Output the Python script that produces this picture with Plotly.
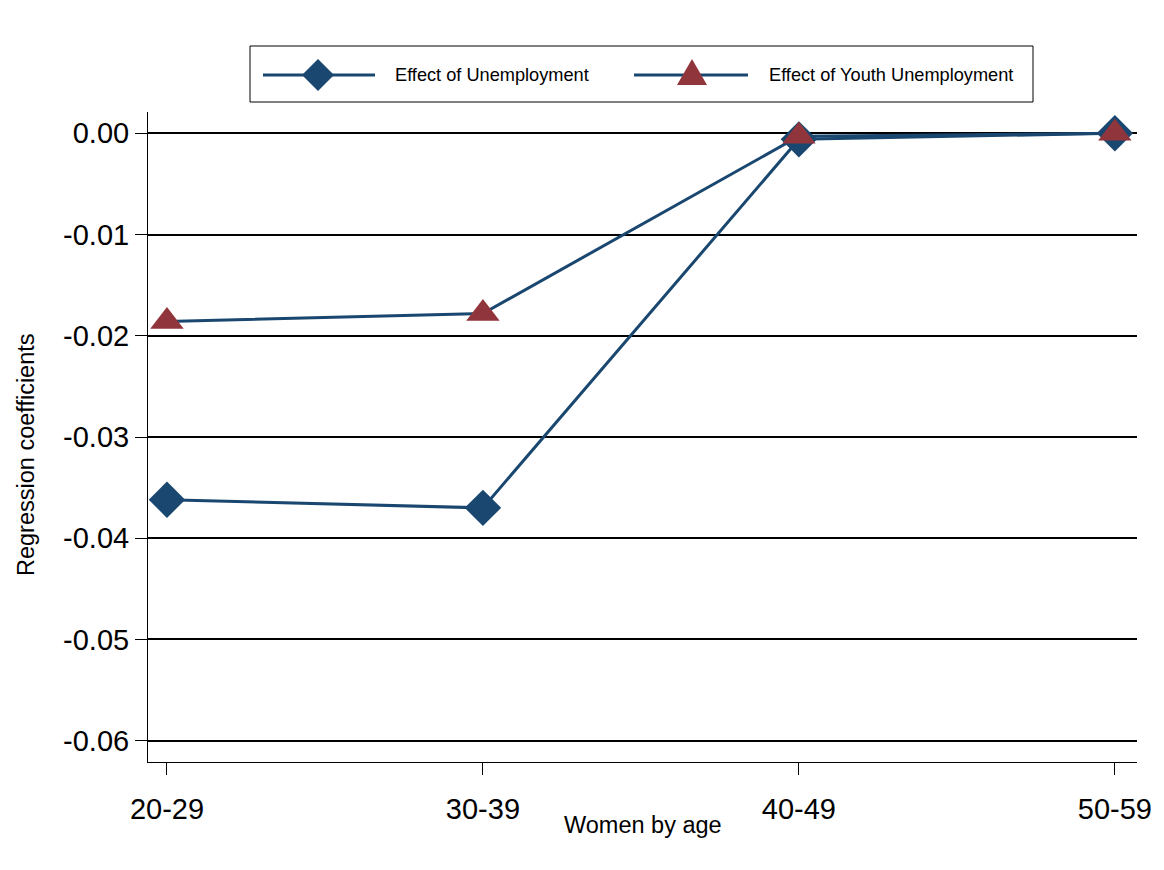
import plotly.graph_objects as go

# DATA
age_groups = ["20-29", "30-39", "40-49", "50-59"]
effect_unemployment = [-0.0362, -0.0370, -0.0006, 0.0000]
effect_youth_unemployment = [-0.0186, -0.0178, -0.0003, 0.0000]
y_tick_values = [0.0, -0.01, -0.02, -0.03, -0.04, -0.05, -0.06]
y_tick_labels = ["0.00", "-0.01", "-0.02", "-0.03", "-0.04", "-0.05", "-0.06"]

NAVY = "#1a476f"
MAROON = "#90353b"
FONT = "Liberation Sans, Arial, sans-serif"

# page puts the figure 8px in from the window corner
OFF = 8
W, H = 1164 - 2 * OFF, 870 - 2 * OFF
# plot area in window pixels (left, right, top, bottom)
L, R, T, B = 148, 1137, 112, 762


def px(x):
    return (x - L) / (R - L)


def py(y):
    return (B - y) / (B - T)


fig = go.Figure()

fig.add_trace(go.Scatter(
    x=age_groups, y=effect_unemployment, mode="lines+markers",
    name="Effect of Unemployment",
    line=dict(color=NAVY, width=3),
    marker=dict(symbol="diamond", size=28, color=NAVY),
))
fig.add_trace(go.Scatter(
    x=age_groups, y=effect_youth_unemployment, mode="lines+markers",
    name="Effect of Youth Unemployment",
    line=dict(color=NAVY, width=3),
    marker=dict(symbol="triangle-up", size=29, color=MAROON),
))

# hand-built legend (Stata style, long sample lines)
shapes = [
    dict(type="rect", xref="paper", yref="paper",
         x0=px(250), x1=px(1033), y0=py(102), y1=py(46),
         line=dict(color="black", width=1), fillcolor="white", layer="above"),
    dict(type="line", xref="paper", yref="paper",
         x0=px(263), x1=px(375), y0=py(75), y1=py(75),
         line=dict(color=NAVY, width=3), layer="above"),
    dict(type="line", xref="paper", yref="paper",
         x0=px(634), x1=px(748), y0=py(75), y1=py(75),
         line=dict(color=NAVY, width=3), layer="above"),
    dict(type="path", xref="paper", yref="paper", layer="above",
         path="M {} {} L {} {} L {} {} L {} {} Z".format(
             px(318), py(59), px(334), py(75), px(318), py(91), px(302), py(75)),
         fillcolor=NAVY, line=dict(width=0)),
    dict(type="path", xref="paper", yref="paper", layer="above",
         path="M {} {} L {} {} L {} {} Z".format(
             px(692), py(59), px(707), py(85), px(677), py(85)),
         fillcolor=MAROON, line=dict(width=0)),
]

annotations = [
    dict(text="Effect of Unemployment", xref="paper", yref="paper",
         x=px(393), y=py(75), xanchor="left", yanchor="middle", showarrow=False,
         font=dict(size=18.2, color="black", family=FONT)),
    dict(text="Effect of Youth Unemployment", xref="paper", yref="paper",
         x=px(767), y=py(75), xanchor="left", yanchor="middle", showarrow=False,
         font=dict(size=18.2, color="black", family=FONT)),
    dict(text="Regression coefficients", xref="paper", yref="paper",
         x=px(26), y=py(455), xanchor="center", yanchor="middle", showarrow=False,
         textangle=-90, font=dict(size=23.5, color="black", family=FONT)),
    dict(text="Women by age", xref="paper", yref="paper",
         x=px(643), y=py(825), xanchor="center", yanchor="middle", showarrow=False,
         font=dict(size=23.5, color="black", family=FONT)),
]

fig.update_layout(
    width=W, height=H,
    margin=dict(l=L - OFF, r=W - (R - OFF), t=T - OFF, b=H - (B - OFF), autoexpand=False),
    paper_bgcolor="white", plot_bgcolor="white",
    showlegend=False,
    font=dict(family=FONT, color="black"),
    shapes=shapes, annotations=annotations,
    xaxis=dict(
        type="category", range=[-0.06, 3.07],
        showgrid=False, zeroline=False,
        showline=True, linecolor="black", linewidth=1,
        ticks="outside", ticklen=12, tickcolor="black", tickwidth=1,
        tickfont=dict(size=29, color="black", family=FONT),
        ticklabelstandoff=9,
    ),
    yaxis=dict(
        range=[-0.0621, 0.0021],
        tickvals=y_tick_values, ticktext=y_tick_labels,
        showgrid=True, gridcolor="black", gridwidth=2,
        zeroline=False,
        showline=True, linecolor="black", linewidth=1,
        ticks="outside", ticklen=12, tickcolor="black", tickwidth=1,
        tickfont=dict(size=29, color="black", family=FONT),
    ),
)

fig.write_html("out.html")
